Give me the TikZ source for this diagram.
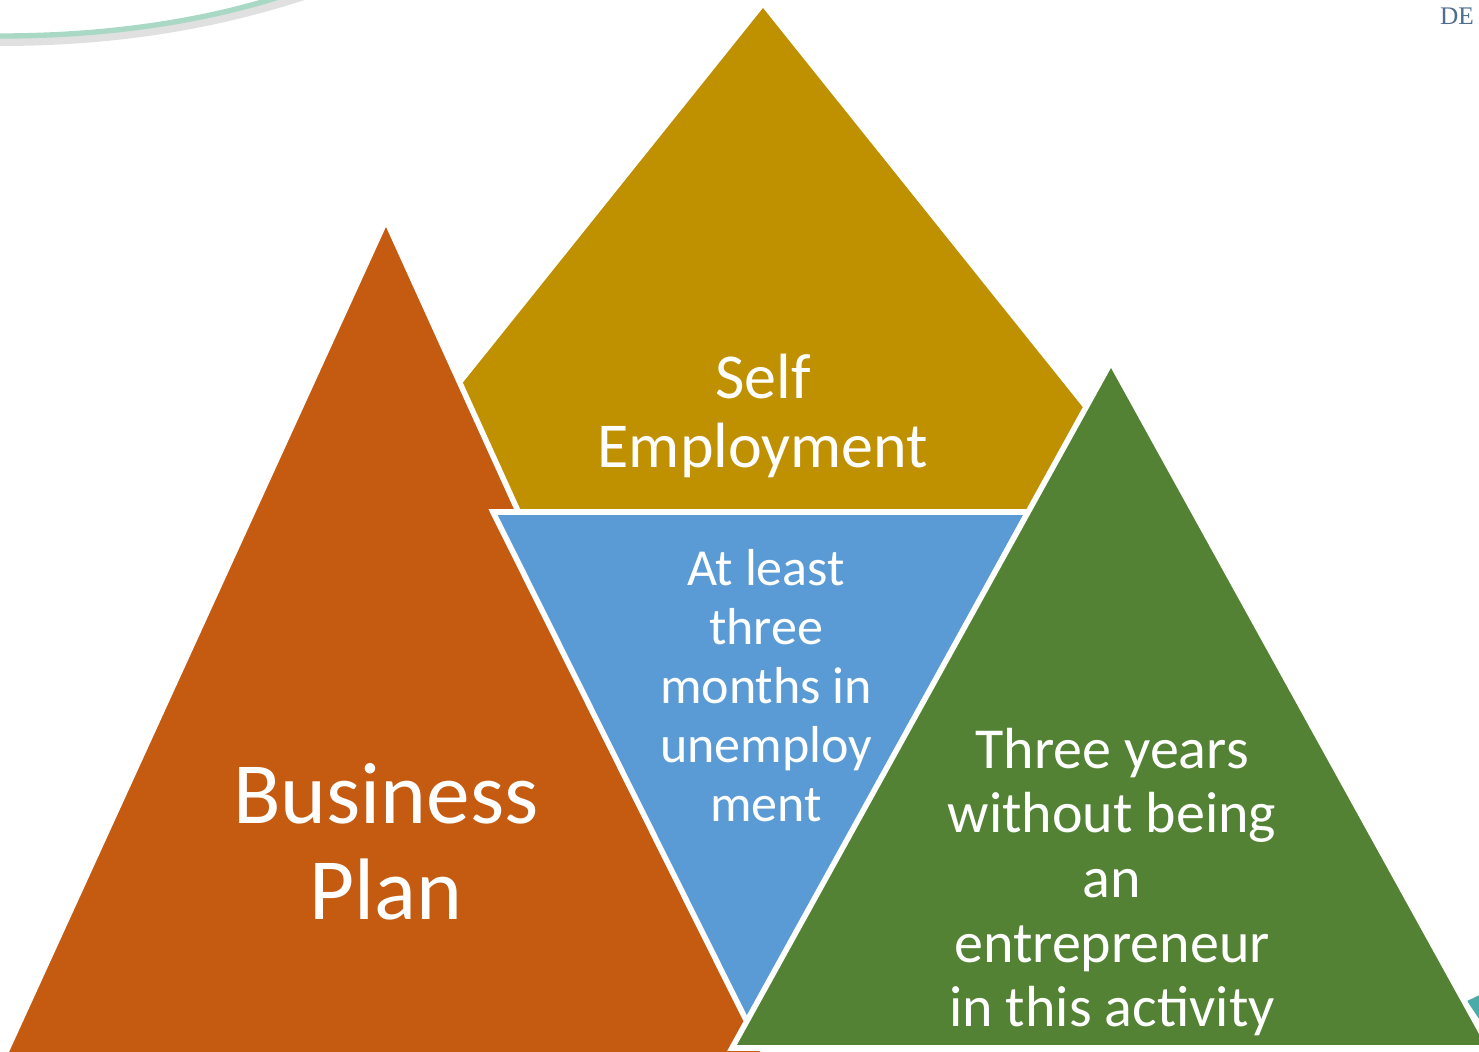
\documentclass[tikz,border=0pt]{standalone}
\usepackage{fontspec}
\setmainfont{Carlito}
\newfontfamily\defont{Liberation Serif}
\definecolor{goldc}{HTML}{BF9000}
\definecolor{orangec}{HTML}{C55A11}
\definecolor{greenc}{HTML}{548235}
\definecolor{bluec}{HTML}{5B9BD5}
\definecolor{arcc}{HTML}{A9D9C4}
\definecolor{tealc}{HTML}{4AABA8}
\definecolor{dec}{HTML}{4F6D8E}
\begin{document}
\begin{tikzpicture}[x=0.75pt,y=-0.75pt,
  facet/.style={draw=white,line width=4.2pt,line join=miter},
  lbl/.style={text=white,align=center,inner sep=0pt}]
\useasboundingbox (0,0) rectangle (1479,1052);
\begin{scope}
\clip (0,0) rectangle (1479,1052);
% decorative arc with soft shadow
\draw[black!12,line width=6pt] (0,42) .. controls (120,42) and (220,24) .. (310,-6);
\draw[arcc,line width=4pt] (0,36) .. controls (120,36) and (220,18) .. (300,-10);
% gold facet
\fill[goldc] (763,8) -- (1093,420) -- (1080,560) -- (480,560) -- (449,400) -- cycle;
% orange
\path[facet,fill=orangec] (386,220) -- (785,1100) -- (-16,1100) -- cycle;
% blue
\path[facet,fill=bluec] (493,512) -- (1028,512) -- (748,1024) -- cycle;
% teal piece
\fill[tealc] (1467,1001) -- (1490,990) -- (1490,1035) -- cycle;
% green
\path[facet,fill=greenc] (1111,362) -- (1490,1048) -- (732,1048) -- cycle;
\end{scope}
\node[lbl,font=\fontsize{48pt}{51.75pt}\selectfont] (self) at (763,416) {Self\\Employment};
\node[lbl,font=\fontsize{39pt}{44.25pt}\selectfont] (least) at (766,686) {At least\\three\\months in\\unemploy\\ment};
\node[lbl,font=\fontsize{65.5pt}{72pt}\selectfont] (plan) at (386,842) {Business\\Plan};
\node[lbl,font=\fontsize{43.5pt}{48.4pt}\selectfont] (years) at (1112,882) {Three years\\without being\\an\\entrepreneur\\in this activity};
\node[text=dec,inner sep=0pt,font=\defont\fontsize{19pt}{22pt}\selectfont] (de) at (1457,16) {DE};
\end{tikzpicture}
\end{document}
